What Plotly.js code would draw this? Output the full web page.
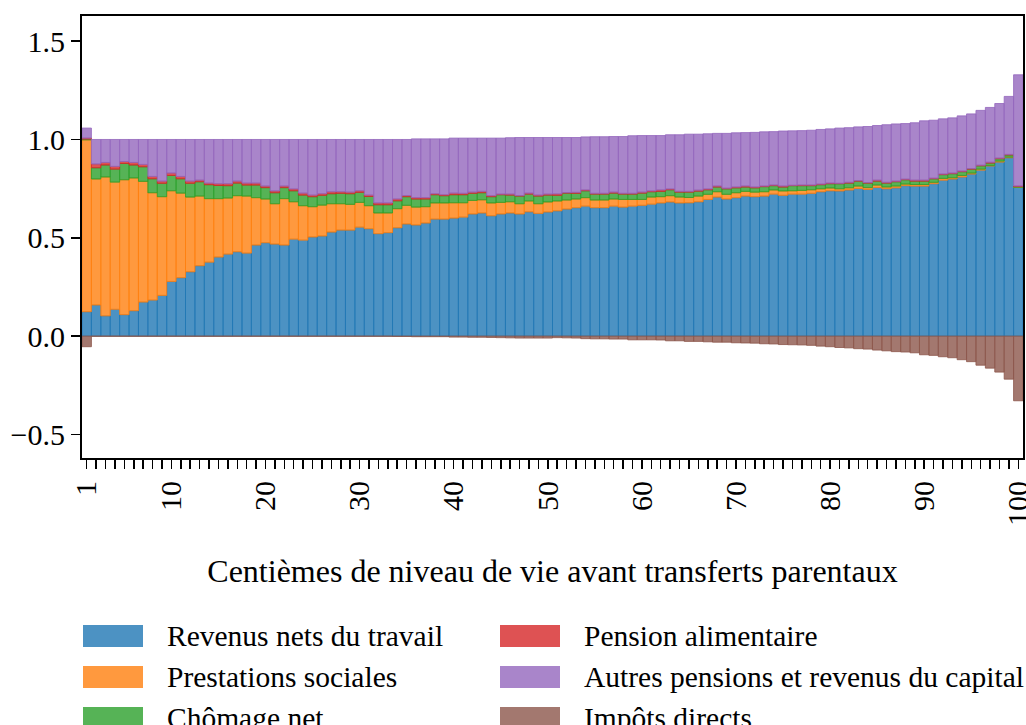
<!DOCTYPE html>
<html>
<head>
<meta charset="utf-8">
<script src="https://cdn.plot.ly/plotly-3.0.1.min.js"></script>
<style>
html,body{margin:0;padding:0;background:#fff;}
#chart{width:1026px;height:725px;}
</style>
</head>
<body>
<div id="chart"></div>
<script>
// Centiles 1..100
const centiles = Array.from({length: 100}, (_, i) => i + 1);

const seriesNames = [
  "Revenus nets du travail",
  "Prestations sociales",
  "Chômage net",
  "Pension alimentaire",
  "Autres pensions et revenus du capital",
  "Impôts directs"
];

const revenusTravail = [
  0.124,0.158,0.103,0.136,0.109,0.129,0.173,0.183,0.207,0.278,
  0.297,0.327,0.358,0.376,0.402,0.417,0.429,0.422,0.463,0.475,
  0.468,0.463,0.493,0.488,0.504,0.509,0.529,0.539,0.539,0.554,
  0.546,0.521,0.526,0.551,0.570,0.565,0.575,0.595,0.595,0.600,
  0.605,0.621,0.626,0.612,0.621,0.626,0.621,0.632,0.624,0.631,
  0.637,0.646,0.653,0.661,0.653,0.653,0.661,0.656,0.661,0.665,
  0.671,0.677,0.682,0.677,0.678,0.683,0.695,0.707,0.697,0.704,
  0.712,0.709,0.712,0.722,0.716,0.722,0.722,0.726,0.734,0.739,
  0.738,0.743,0.751,0.746,0.756,0.749,0.754,0.765,0.763,0.763,
  0.775,0.793,0.799,0.809,0.824,0.844,0.865,0.885,0.907,0.756
];

const prestationsSociales = [
  0.874,0.641,0.706,0.647,0.686,0.675,0.614,0.546,0.502,0.461,
  0.430,0.380,0.354,0.323,0.297,0.285,0.285,0.290,0.241,0.222,
  0.205,0.236,0.190,0.175,0.154,0.157,0.144,0.134,0.131,0.126,
  0.117,0.105,0.100,0.097,0.095,0.091,0.083,0.082,0.082,0.078,
  0.073,0.069,0.067,0.065,0.059,0.057,0.052,0.055,0.049,0.051,
  0.050,0.046,0.044,0.043,0.039,0.039,0.036,0.039,0.034,0.030,
  0.036,0.032,0.032,0.030,0.027,0.029,0.026,0.027,0.024,0.025,
  0.024,0.023,0.022,0.021,0.022,0.017,0.019,0.018,0.015,0.014,
  0.011,0.011,0.012,0.009,0.012,0.009,0.009,0.008,0.008,0.008,
  0.007,0.009,0.006,0.008,0.005,0.005,0.003,0.005,0.003,0.001
];

const chomageNet = [
  0.004,0.057,0.061,0.066,0.083,0.066,0.074,0.071,0.068,0.078,
  0.073,0.070,0.073,0.071,0.067,0.063,0.064,0.056,0.064,0.058,
  0.056,0.056,0.056,0.054,0.051,0.050,0.051,0.053,0.054,0.051,
  0.047,0.042,0.042,0.040,0.044,0.041,0.039,0.042,0.037,0.041,
  0.041,0.036,0.036,0.032,0.039,0.034,0.039,0.035,0.039,0.035,
  0.029,0.035,0.029,0.035,0.030,0.030,0.030,0.027,0.027,0.032,
  0.027,0.027,0.030,0.025,0.027,0.025,0.023,0.024,0.028,0.025,
  0.022,0.022,0.026,0.022,0.020,0.026,0.024,0.021,0.021,0.022,
  0.026,0.024,0.025,0.023,0.020,0.020,0.022,0.022,0.017,0.017,
  0.018,0.019,0.021,0.019,0.020,0.017,0.012,0.012,0.011,0.004
];

const pensionAlimentaire = [
  0.005,0.019,0.013,0.014,0.010,0.013,0.012,0.012,0.011,0.012,
  0.012,0.011,0.008,0.008,0.009,0.010,0.010,0.010,0.010,0.008,
  0.009,0.008,0.009,0.010,0.008,0.008,0.010,0.008,0.008,0.008,
  0.007,0.009,0.009,0.009,0.006,0.007,0.007,0.005,0.005,0.008,
  0.007,0.006,0.007,0.005,0.003,0.005,0.003,0.005,0.005,0.005,
  0.007,0.003,0.005,0.004,0.004,0.004,0.005,0.004,0.004,0.005,
  0.004,0.007,0.004,0.004,0.004,0.005,0.004,0.005,0.003,0.004,
  0.005,0.004,0.003,0.003,0.005,0.002,0.003,0.003,0.003,0.003,
  0.002,0.004,0.003,0.003,0.005,0.004,0.003,0.003,0.005,0.005,
  0.003,0.003,0.003,0.003,0.003,0.003,0.004,0.003,0.003,0.002
];

const autresPensionsCapital = [
  0.051,0.125,0.117,0.137,0.112,0.117,0.127,0.188,0.212,0.171,
  0.188,0.212,0.207,0.222,0.225,0.225,0.212,0.222,0.222,0.237,
  0.262,0.237,0.252,0.273,0.283,0.276,0.266,0.266,0.268,0.261,
  0.283,0.323,0.323,0.303,0.285,0.299,0.299,0.279,0.284,0.280,
  0.281,0.275,0.271,0.293,0.285,0.287,0.295,0.283,0.293,0.288,
  0.287,0.280,0.279,0.270,0.288,0.288,0.283,0.289,0.293,0.288,
  0.282,0.277,0.276,0.288,0.291,0.285,0.281,0.268,0.279,0.276,
  0.272,0.278,0.276,0.272,0.280,0.277,0.277,0.279,0.278,0.276,
  0.281,0.278,0.273,0.285,0.278,0.293,0.291,0.283,0.292,0.302,
  0.295,0.281,0.281,0.281,0.278,0.279,0.279,0.278,0.295,0.566
];

const impotsDirects = [
  -0.054,-0.001,-0.001,-0.001,-0.001,-0.001,-0.001,-0.001,-0.001,-0.001,
  -0.001,-0.001,-0.001,-0.001,-0.001,-0.001,-0.001,-0.001,-0.001,-0.001,
  -0.001,-0.001,-0.001,-0.001,-0.001,-0.001,-0.001,-0.001,-0.001,-0.001,
  -0.001,-0.001,-0.001,-0.002,-0.002,-0.003,-0.003,-0.003,-0.003,-0.005,
  -0.005,-0.006,-0.006,-0.007,-0.008,-0.009,-0.010,-0.010,-0.010,-0.010,
  -0.008,-0.009,-0.010,-0.013,-0.014,-0.014,-0.015,-0.015,-0.019,-0.019,
  -0.019,-0.020,-0.024,-0.024,-0.027,-0.027,-0.029,-0.031,-0.031,-0.034,
  -0.035,-0.036,-0.039,-0.040,-0.043,-0.044,-0.045,-0.047,-0.051,-0.054,
  -0.058,-0.060,-0.064,-0.066,-0.071,-0.075,-0.079,-0.081,-0.085,-0.095,
  -0.098,-0.105,-0.110,-0.120,-0.130,-0.148,-0.163,-0.183,-0.219,-0.329
];

const tickLabelCentiles = [1,10,20,30,40,50,60,70,80,90,100];
const yTickVals = [-0.5, 0, 0.5, 1.0, 1.5];
const yTickText = ["\u22120.5", "0.0", "0.5", "1.0", "1.5"];

const seriesValues = [revenusTravail, prestationsSociales, chomageNet, pensionAlimentaire, autresPensionsCapital, impotsDirects];
const rgb = ["31,119,180","255,127,14","44,160,44","214,39,40","148,103,189","140,86,75"];

const FONT = "Liberation Serif, Times New Roman, serif";
const FS = 30;

const traces = seriesValues.map((vals, k) => ({
  type: "bar",
  name: seriesNames[k],
  x: centiles,
  y: vals,
  width: 1,
  marker: {
    color: "rgba(" + rgb[k] + ",0.8)",
    line: {color: "rgba(" + rgb[k] + ",0.8)", width: 1}
  },
  showlegend: false,
  hoverinfo: "x+y+name"
}));

// Manual legend (matplotlib-like, 2 columns, column-major order)
const plotTop = 16, plotBottom = 458, plotLeft = 82, plotRight = 1023;
const pw = plotRight - plotLeft, ph = plotBottom - plotTop;
const px2x = (px) => (px - plotLeft) / pw;
const px2y = (py) => (plotBottom - py) / ph;
const rowCenters = [636, 677, 718];
const colRectX = [83, 500];
const rectW = 60, rectH = 22, textGap = 22;
const shapes = [], annotations = [];
seriesNames.forEach((name, k) => {
  const col = Math.floor(k / 3), row = k % 3;
  const cy = rowCenters[row], x0 = colRectX[col];
  shapes.push({
    type: "rect", xref: "paper", yref: "paper",
    x0: px2x(x0), x1: px2x(x0 + rectW),
    y0: px2y(cy + rectH / 2), y1: px2y(cy - rectH / 2),
    fillcolor: "rgba(" + rgb[k] + ",0.8)",
    line: {width: 0}
  });
  annotations.push({
    xref: "paper", yref: "paper",
    x: px2x(x0 + rectW + textGap), y: px2y(cy),
    xanchor: "left", yanchor: "middle",
    text: name, showarrow: false,
    font: {family: FONT, size: 29.5, color: "#000"}
  });
});

const layout = {
  width: 1026, height: 725,
  margin: {l: plotLeft, r: 1026 - plotRight, t: plotTop, b: 725 - plotBottom, pad: 0},
  paper_bgcolor: "#fff", plot_bgcolor: "#fff",
  barmode: "relative", bargap: 0,
  font: {family: FONT, size: FS, color: "#000"},
  xaxis: {
    range: [0.5, 100.5],
    tickmode: "array",
    tickvals: centiles,
    ticktext: centiles.map(c => tickLabelCentiles.includes(c) ? String(c) : ""),
    tickangle: -90,
    ticklabeloverflow: "allow",
    ticks: "outside", ticklen: 9, tickwidth: 1.5, tickcolor: "#000",
    showline: true, linecolor: "#000", linewidth: 2, mirror: true,
    showgrid: false, zeroline: false,
    tickfont: {family: FONT, size: FS, color: "#000"},
    title: {text: "Centièmes de niveau de vie avant transferts parentaux", standoff: 35,
            font: {family: FONT, size: 32, color: "#000"}},
    automargin: false
  },
  yaxis: {
    range: [-0.62, 1.628],
    tickmode: "array",
    tickvals: yTickVals, ticktext: yTickText,
    ticks: "outside", ticklen: 9, tickwidth: 1.5, tickcolor: "#000",
    showline: true, linecolor: "#000", linewidth: 2, mirror: true,
    showgrid: false, zeroline: false,
    tickfont: {family: FONT, size: FS, color: "#000"},
    automargin: false
  },
  shapes: shapes,
  annotations: annotations,
  showlegend: false
};

Plotly.newPlot("chart", traces, layout, {displayModeBar: false, staticPlot: true});
</script>
</body>
</html>
